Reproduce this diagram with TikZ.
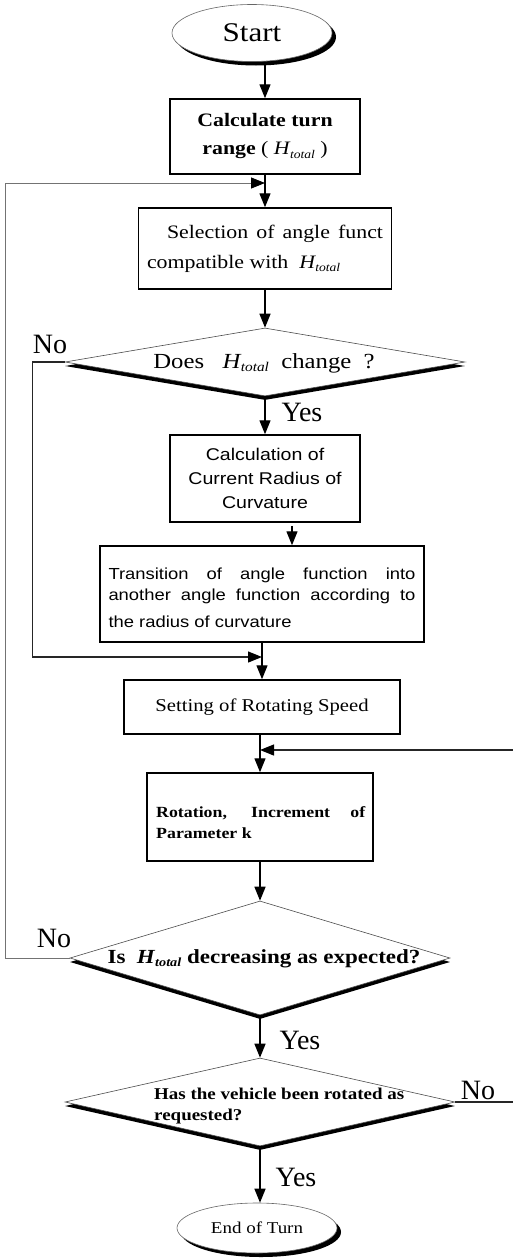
\documentclass[tikz,border=0pt]{standalone}
\usepackage{fontspec}
\setmainfont{Liberation Serif}[FakeStretch=1.15]
\setsansfont{Liberation Sans}[FakeStretch=1.15]
\newfontfamily\plainserif{Liberation Serif}
\usetikzlibrary{arrows.meta,shapes.geometric,shadows,calc}
\newcommand{\Htot}{{\itshape H}\kern0.3pt\raisebox{-0.35ex}{\scalebox{0.62}{\itshape total}}}
\tikzset{
  box/.style={draw=black, line width=1.5pt, fill=white, inner sep=0pt},
  tip/.style={-{Triangle[length=14pt,width=11pt,color=black]}},
  flow/.style={line width=1.4pt, tip},
  loopthin/.style={line width=0.8pt, draw=black!55, tip},
  loopdark/.style={line width=1.2pt, draw=black!85, tip},
  term/.style={ellipse, draw=black!60, line width=0.6pt, fill=white, inner sep=0pt,
    drop shadow={shadow xshift=4pt, shadow yshift=-4pt, opacity=1, fill=black}},
  dec/.style={diamond, draw=black!70, line width=0.6pt, fill=white, inner sep=0pt,
    drop shadow={shadow xshift=0pt, shadow yshift=-4pt, opacity=1, fill=black}},
  lab/.style={font=\plainserif\fontsize{28}{28}\selectfont, inner sep=0pt},
  txt/.style={inner sep=0pt},
}
\begin{document}
\begin{tikzpicture}[x=1pt,y=-1pt]
\useasboundingbox (0,0) rectangle (512,1258);

% nodes
\node[term, minimum width=160pt, minimum height=57pt, font=\fontsize{27}{27}\selectfont] (start) at (252,33) {Start};
\node[box, minimum width=190pt, minimum height=75pt, align=center,
  font=\bfseries\fontsize{19}{28}\selectfont] (b1) at (265,136.5)
  {Calculate turn\\range {\mdseries(} {\mdseries\Htot} {\mdseries)}};
\coordinate (j1) at (265,183);
\node[box, minimum width=253pt, minimum height=81pt, align=left,
  font=\fontsize{19}{30}\selectfont] (b2) at (265,248.5)
  {\hspace*{20pt}\makebox[216pt][s]{Selection of angle funct}\\compatible with\ \ \Htot};
\node[dec, minimum width=400pt, minimum height=68pt] (d1) at (265,362) {};
\node[txt, font=\fontsize{21.5}{21.5}\selectfont] (d1t) at (264,363) {Does\ \ \ \Htot\ \ change\ \ ?};
\node[box, minimum width=190pt, minimum height=87pt, align=center,
  font=\sffamily\fontsize{17}{24}\selectfont] (b3) at (265,478.5)
  {Calculation of\\Current Radius of\\Curvature};
\node[box, minimum width=324pt, minimum height=96pt, align=left,
  font=\sffamily\fontsize{16}{21}\selectfont] (b4) at (262,594)
  {\rule{0pt}{20pt}\makebox[307pt][s]{Transition of angle function into}\\
   \makebox[307pt][s]{another angle function according to}\\[6pt]
   the radius of curvature};
\coordinate (j2) at (262,657);
\node[box, minimum width=276pt, minimum height=54pt,
  font=\fontsize{18}{18}\selectfont] (b5) at (262,707) {Setting of Rotating Speed};
\coordinate (j3) at (260,750);
\node[box, minimum width=226pt, minimum height=88pt] (b6) at (260,817) {};
\node[txt, anchor=north west, align=left, font=\bfseries\fontsize{15.5}{21}\selectfont] (b6t) at (156,806)
  {\makebox[209pt][s]{Rotation, Increment of}\\Parameter k};
\node[dec, minimum width=380pt, minimum height=114pt] (d2) at (260,958) {};
\node[txt, font=\bfseries\fontsize{20}{20}\selectfont] (d2t) at (264,959) {Is\ \ \Htot\ decreasing as expected?};
\node[dec, minimum width=390pt, minimum height=88pt] (d3) at (260,1102) {};
\node[txt, anchor=north west, align=left, font=\bfseries\fontsize{16.5}{21}\selectfont] (d3t) at (154,1088)
  {Has the vehicle been rotated as\\requested?};
\node[term, minimum width=160pt, minimum height=50pt, font=\fontsize{16.5}{16.5}\selectfont] (end) at (257,1228) {End of Turn};

% labels
\node[lab] (no1) at (50,344) {No};
\node[lab] (yes1) at (302,412) {Yes};
\node[lab] (no2) at (54,938) {No};
\node[lab] (yes2) at (300,1040) {Yes};
\node[lab] (no3) at (478,1090) {No};
\node[lab] (yes3) at (296,1177) {Yes};

% connectors
\draw[flow] (start.south -| b1.north) -- (b1.north);
\draw[flow] (b1.south) -- (b2.north);
\draw[flow] (b2.south) -- (d1.north);
\draw[flow] (d1.south) -- (b3.north);
\draw[flow] ([xshift=27pt,yshift=-3pt]b3.south) -- ([xshift=30pt]b4.north);
\draw[flow] (b4.south) -- (b5.north);
\draw[flow] (b6.north |- b5.south) -- (b6.north);
\draw[flow] (b6.south) -- (d2.north);
\draw[flow] (d2.south) -- (d3.north);
\draw[flow] (d3.south) -- (d3.south |- end.north);
% loops
\draw[loopthin] (d2.west) -- ++(-64,0) |- (j1);
\draw[loopdark] (d1.west) -- ++(-32,0) |- (j2);
\draw[loopdark] (d3.east) -- ++(62,0) |- (j3);
\end{tikzpicture}
\end{document}
